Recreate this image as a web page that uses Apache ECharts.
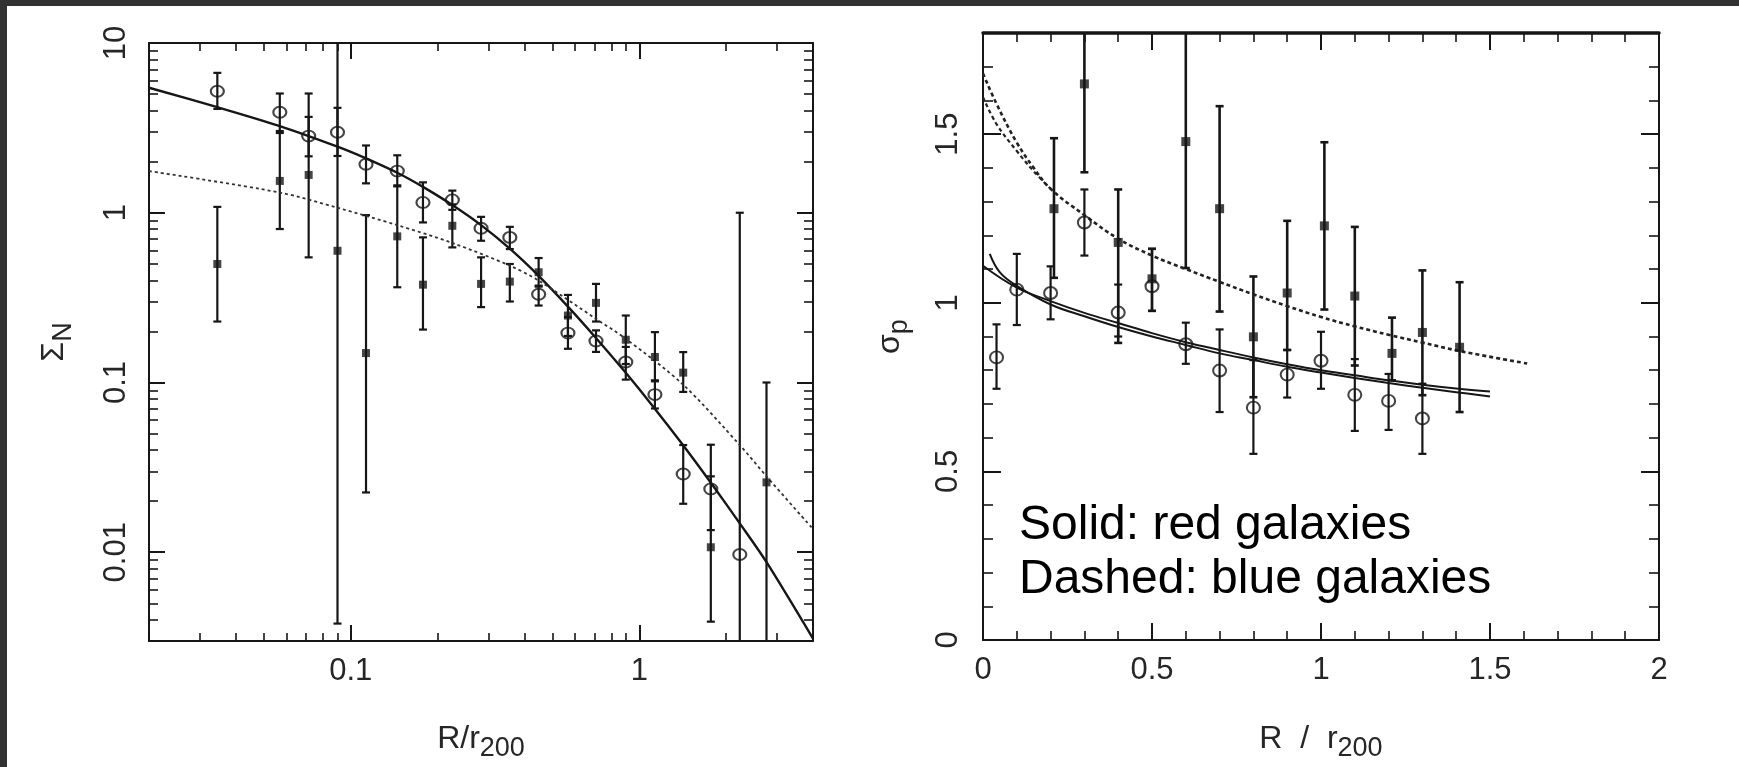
<!DOCTYPE html>
<html>
<head>
<meta charset="utf-8">
<title>Sigma_N and sigma_p profiles</title>
<script src="https://cdn.jsdelivr.net/npm/echarts@6.0.0/dist/echarts.min.js"></script>
<style>
  html, body { margin: 0; padding: 0; background: #323232; overflow: hidden; }
  #paper { position: absolute; left: 7px; top: 6px; right: 0; bottom: 0; background: #fff; }
  #chart { position: absolute; left: 0; top: 0; width: 1739px; height: 767px; }
</style>
</head>
<body>
<div id="paper"></div>
<div id="chart"></div>
<script>
// ---- left panel: Sigma_N vs R/r200 (log-log) ----
// open circles = red galaxies, filled squares = blue galaxies
const sigRedR  = [0.0345, 0.0568, 0.0715, 0.090, 0.113, 0.145, 0.178, 0.225, 0.283, 0.356, 0.448, 0.566, 0.708, 0.898, 1.133, 1.42, 1.77, 2.23];
const sigRed   = [5.2, 3.91, 2.83, 2.98, 1.93, 1.76, 1.15, 1.19, 0.81, 0.716, 0.331, 0.1955, 0.1755, 0.132, 0.0849, 0.0289, 0.0236, 0.0097];
const sigRedLo = [4.09, 3.03, 2.15, 2.16, 1.49, 1.43, 0.877, 1.04, 0.684, 0.611, 0.284, 0.158, 0.1514, 0.104, 0.0703, 0.0193, 0.0135, 0.001];
const sigRedHi = [6.67, 5.04, 3.67, 4.15, 2.49, 2.18, 1.51, 1.35, 0.946, 0.826, 0.372, 0.243, 0.2028, 0.162, 0.103, 0.0428, 0.043, 1.0];

const sigBlueR  = [0.0345, 0.0568, 0.0715, 0.090, 0.113, 0.145, 0.178, 0.225, 0.283, 0.356, 0.448, 0.566, 0.708, 0.898, 1.133, 1.42, 1.77, 2.76];
const sigBlue   = [0.499, 1.54, 1.67, 0.597, 0.149, 0.726, 0.377, 0.838, 0.381, 0.393, 0.446, 0.248, 0.2945, 0.1786, 0.1413, 0.1143, 0.0107, 0.0258];
const sigBlueLo = [0.2286, 0.802, 0.546, 0.0038, 0.0225, 0.364, 0.205, 0.625, 0.278, 0.30, 0.367, 0.188, 0.2286, 0.1285, 0.1016, 0.088, 0.0039, 0.001];
const sigBlueHi = [1.083, 2.95, 5.04, 20, 0.968, 1.45, 0.716, 1.12, 0.546, 0.499, 0.541, 0.328, 0.381, 0.248, 0.198, 0.151, 0.028, 0.1];

const sigRedFitR  = [0.02, 0.0345, 0.0568, 0.09, 0.113, 0.145, 0.178, 0.225, 0.283, 0.356, 0.448, 0.566, 0.708, 0.898, 1.125, 1.413, 1.778, 2.23, 2.754, 4.0];
const sigRedFit   = [5.45, 4.19, 3.24, 2.45, 2.09, 1.72, 1.42, 1.11, 0.845, 0.614, 0.425, 0.28, 0.183, 0.114, 0.0711, 0.0431, 0.0254, 0.0148, 0.0088, 0.0031];
const sigBlueFitR = [0.02, 0.0568, 0.09, 0.145, 0.225, 0.356, 0.448, 0.708, 0.898, 1.42, 2.23, 2.76, 4.0];
const sigBlueFit  = [1.76, 1.315, 1.07, 0.845, 0.664, 0.488, 0.398, 0.237, 0.181, 0.097, 0.0428, 0.028, 0.0137];

// ---- right panel: sigma_p vs R/r200 ----
const dispRedR  = [0.04, 0.1, 0.2, 0.3, 0.4, 0.5, 0.6, 0.7, 0.8, 0.9, 1.0, 1.1, 1.2, 1.3];
const dispRed   = [0.838, 1.039, 1.029, 1.238, 0.971, 1.049, 0.877, 0.799, 0.689, 0.787, 0.828, 0.727, 0.709, 0.657];
const dispRedLo = [0.745, 0.934, 0.951, 1.14, 0.90, 0.976, 0.819, 0.676, 0.552, 0.719, 0.745, 0.62, 0.623, 0.552];
const dispRedHi = [0.936, 1.145, 1.108, 1.336, 1.054, 1.16, 0.941, 0.921, 0.83, 0.86, 0.914, 0.833, 0.789, 0.76];

const dispBlueR  = [0.21, 0.3, 0.4, 0.5, 0.6, 0.7, 0.8, 0.9, 1.01, 1.1, 1.21, 1.3, 1.41];
const dispBlue   = [1.279, 1.649, 1.179, 1.071, 1.478, 1.279, 0.899, 1.029, 1.228, 1.02, 0.85, 0.912, 0.868];
const dispBlueLo = [1.074, 1.387, 0.881, 0.976, 1.103, 0.974, 0.72, 0.86, 0.98, 0.814, 0.77, 0.726, 0.676];
const dispBlueHi = [1.488, 1.91, 1.336, 1.16, 1.85, 1.583, 1.078, 1.243, 1.476, 1.225, 0.956, 1.096, 1.061];

// two nearly identical solid fits for the red galaxies
const dispRedFitR  = [0, 0.1, 0.2, 0.3, 0.4, 0.5, 0.6, 0.7, 0.8, 0.9, 1.0, 1.1, 1.2, 1.3, 1.4, 1.5];
const dispRedFitA  = [1.11, 1.045, 1.005, 0.97, 0.94, 0.91, 0.883, 0.86, 0.838, 0.818, 0.8, 0.785, 0.77, 0.757, 0.746, 0.737];
const dispRedFitR2 = [0.02, 0.05, 0.1, 0.2, 0.3, 0.4, 0.5, 0.6, 0.7, 0.8, 0.9, 1.0, 1.1, 1.2, 1.3, 1.4, 1.5];
const dispRedFitB  = [1.145, 1.09, 1.05, 0.995, 0.96, 0.928, 0.9, 0.875, 0.85, 0.83, 0.81, 0.793, 0.777, 0.762, 0.748, 0.735, 0.722];
// dotted fits for the blue galaxies (a second one splits off near R=0)
const dispBlueFitR  = [0, 0.04, 0.1, 0.15, 0.2, 0.3, 0.4, 0.5, 0.6, 0.7, 0.8, 0.9, 1.0, 1.1, 1.2, 1.3, 1.41, 1.61];
const dispBlueFitA  = [1.68, 1.59, 1.475, 1.40, 1.338, 1.26, 1.19, 1.14, 1.10, 1.062, 1.025, 0.99, 0.958, 0.93, 0.905, 0.882, 0.857, 0.82];
const dispBlueFitR2 = [0, 0.04, 0.1, 0.15, 0.2];
const dispBlueFitB  = [1.61, 1.53, 1.45, 1.39, 1.338];

const INK = '#161616';
const FONT = '"Liberation Sans", Arial, Helvetica, sans-serif';

const zip = (xs, ys) => xs.map((x, i) => [x, ys[i]]);
const bars = (xs, lo, hi) => xs.map((x, i) => [x, lo[i], hi[i]]);

// vertical error bar with caps, cut at the plot frame
function errorBar(capHalf, width) {
  return function (params, api) {
    const x = api.value(0);
    const top = api.coord([x, api.value(2)]);
    const bot = api.coord([x, api.value(1)]);
    const cs = params.coordSys;
    const yMin = cs.y, yMax = cs.y + cs.height;
    const style = { stroke: INK, lineWidth: width };
    const kids = [{
      type: 'line',
      shape: { x1: top[0], y1: Math.max(top[1], yMin), x2: top[0], y2: Math.min(bot[1], yMax) },
      style
    }];
    if (top[1] >= yMin) kids.push({ type: 'line', shape: { x1: top[0] - capHalf, y1: top[1], x2: top[0] + capHalf, y2: top[1] }, style });
    if (bot[1] <= yMax) kids.push({ type: 'line', shape: { x1: bot[0] - capHalf, y1: bot[1], x2: bot[0] + capHalf, y2: bot[1] }, style });
    return { type: 'group', children: kids };
  };
}

const tickLabel = { color: '#262626', fontSize: 31, fontFamily: FONT };
const nameStyle = {
  color: '#262626', fontSize: 32, fontFamily: FONT,
  rich: { s: { fontSize: 27, fontFamily: FONT, color: '#262626', padding: [18, 0, 0, 0] } }
};

function frameAxis(extra) {
  return Object.assign({
    axisLine: { show: true, onZero: false, lineStyle: { color: INK, width: 2 } },
    axisTick: { show: true, inside: true, length: 16, lineStyle: { color: INK, width: 2 } },
    minorTick: { show: true, length: 8, lineStyle: { color: INK, width: 1.6 } },
    splitLine: { show: false },
    minorSplitLine: { show: false },
    axisLabel: { show: false }
  }, extra);
}

const chart = echarts.init(document.getElementById('chart'), null, { renderer: 'canvas' });

chart.setOption({
  animation: false,
  backgroundColor: 'transparent',
  grid: [
    { left: 149, top: 43, width: 664, height: 600 },
    { left: 983, top: 33, width: 676, height: 612 }
  ],
  xAxis: [
    frameAxis({
      type: 'log', logBase: 10, min: 0.02, max: 4, gridIndex: 0, position: 'bottom',
      minorTick: { show: true, splitNumber: 9, length: 8, lineStyle: { color: INK, width: 1.6 } },
      axisLabel: Object.assign({ show: true, margin: 15, showMinLabel: false, showMaxLabel: false }, tickLabel),
      name: 'R/r{s|200}', nameLocation: 'middle', nameGap: 76, nameTextStyle: nameStyle
    }),
    frameAxis({
      type: 'log', logBase: 10, min: 0.02, max: 4, gridIndex: 0, position: 'top',
      minorTick: { show: true, splitNumber: 9, length: 8, lineStyle: { color: INK, width: 1.6 } }
    }),
    frameAxis({
      type: 'value', min: 0, max: 2, interval: 0.5, gridIndex: 1, position: 'bottom',
      axisTick: { show: true, inside: true, length: 17, lineStyle: { color: INK, width: 2 } },
      minorTick: { show: true, splitNumber: 5, length: 9, lineStyle: { color: INK, width: 1.6 } },
      axisLabel: Object.assign({ show: true, margin: 15 }, tickLabel),
      name: 'R  /  r{s|200}', nameLocation: 'middle', nameGap: 77, nameTextStyle: nameStyle
    }),
    frameAxis({
      type: 'value', min: 0, max: 2, interval: 0.5, gridIndex: 1, position: 'top',
      axisLine: { show: true, onZero: false, lineStyle: { color: INK, width: 3.5 } },
      axisTick: { show: true, inside: true, length: 17, lineStyle: { color: INK, width: 2 } },
      minorTick: { show: true, splitNumber: 5, length: 9, lineStyle: { color: INK, width: 1.6 } }
    })
  ],
  yAxis: [
    frameAxis({
      type: 'log', logBase: 10, min: 0.003, max: 10, gridIndex: 0, position: 'left',
      minorTick: { show: true, splitNumber: 9, length: 9, lineStyle: { color: INK, width: 1.6 } },
      axisLabel: Object.assign({ show: true, rotate: 90, margin: 17, showMinLabel: false }, tickLabel),
      name: 'Σ{s|N}', nameLocation: 'middle', nameRotate: 90, nameGap: 72, nameTextStyle: nameStyle
    }),
    frameAxis({
      type: 'log', logBase: 10, min: 0.003, max: 10, gridIndex: 0, position: 'right',
      minorTick: { show: true, splitNumber: 9, length: 9, lineStyle: { color: INK, width: 1.6 } }
    }),
    frameAxis({
      type: 'value', min: 0, max: 1.8, interval: 0.5, gridIndex: 1, position: 'left',
      axisTick: { show: true, inside: true, length: 18, lineStyle: { color: INK, width: 2 } },
      minorTick: { show: true, splitNumber: 5, length: 10, lineStyle: { color: INK, width: 1.6 } },
      axisLabel: Object.assign({ show: true, rotate: 90, margin: 19, showMaxLabel: false }, tickLabel),
      name: 'σ{s|p}', nameLocation: 'middle', nameRotate: 90, nameGap: 70, nameTextStyle: nameStyle
    }),
    frameAxis({
      type: 'value', min: 0, max: 1.8, interval: 0.5, gridIndex: 1, position: 'right',
      axisTick: { show: true, inside: true, length: 18, lineStyle: { color: INK, width: 2 } },
      minorTick: { show: true, splitNumber: 5, length: 10, lineStyle: { color: INK, width: 1.6 } }
    })
  ],
  series: [
    // left panel
    { type: 'custom', xAxisIndex: 0, yAxisIndex: 0, renderItem: errorBar(4, 2.2), data: bars(sigRedR, sigRedLo, sigRedHi), encode: { x: 0, y: [1, 2] }, z: 2 },
    { type: 'custom', xAxisIndex: 0, yAxisIndex: 0, renderItem: errorBar(4, 2.2), data: bars(sigBlueR, sigBlueLo, sigBlueHi), encode: { x: 0, y: [1, 2] }, z: 2 },
    { type: 'line', xAxisIndex: 0, yAxisIndex: 0, data: zip(sigRedFitR, sigRedFit), smooth: 0.3, showSymbol: false, lineStyle: { color: INK, width: 2.4 }, z: 3 },
    { type: 'line', xAxisIndex: 0, yAxisIndex: 0, data: zip(sigBlueFitR, sigBlueFit), smooth: 0.3, showSymbol: false, lineStyle: { color: '#333', width: 1.8, type: [3, 3] }, z: 3 },
    { type: 'scatter', xAxisIndex: 0, yAxisIndex: 0, data: zip(sigRedR, sigRed), symbol: 'circle', symbolSize: [13, 11], itemStyle: { color: 'rgba(0,0,0,0)', borderColor: INK, borderWidth: 2 }, z: 4 },
    { type: 'scatter', xAxisIndex: 0, yAxisIndex: 0, data: zip(sigBlueR, sigBlue), symbol: 'rect', symbolSize: 8, itemStyle: { color: INK }, z: 4 },
    // right panel
    { type: 'custom', xAxisIndex: 2, yAxisIndex: 2, renderItem: errorBar(4, 2.2), data: bars(dispRedR, dispRedLo, dispRedHi), encode: { x: 0, y: [1, 2] }, z: 2 },
    { type: 'custom', xAxisIndex: 2, yAxisIndex: 2, renderItem: errorBar(4, 2.6), data: bars(dispBlueR, dispBlueLo, dispBlueHi), encode: { x: 0, y: [1, 2] }, z: 2 },
    { type: 'line', xAxisIndex: 2, yAxisIndex: 2, data: zip(dispRedFitR, dispRedFitA), smooth: 0.4, showSymbol: false, lineStyle: { color: INK, width: 2 }, z: 3 },
    { type: 'line', xAxisIndex: 2, yAxisIndex: 2, data: zip(dispRedFitR2, dispRedFitB), smooth: 0.4, showSymbol: false, lineStyle: { color: INK, width: 2 }, z: 3 },
    { type: 'line', xAxisIndex: 2, yAxisIndex: 2, data: zip(dispBlueFitR, dispBlueFitA), smooth: 0.4, showSymbol: false, lineStyle: { color: '#222', width: 2.6, type: [4, 3] }, z: 3 },
    { type: 'line', xAxisIndex: 2, yAxisIndex: 2, data: zip(dispBlueFitR2, dispBlueFitB), smooth: 0.4, showSymbol: false, lineStyle: { color: '#222', width: 2.2, type: [4, 3] }, z: 3 },
    { type: 'scatter', xAxisIndex: 2, yAxisIndex: 2, data: zip(dispRedR, dispRed), symbol: 'circle', symbolSize: [13, 12], itemStyle: { color: 'rgba(0,0,0,0)', borderColor: INK, borderWidth: 2 }, z: 4 },
    { type: 'scatter', xAxisIndex: 2, yAxisIndex: 2, data: zip(dispBlueR, dispBlue), symbol: 'rect', symbolSize: 9, itemStyle: { color: INK }, z: 4 }
  ],
  graphic: [{
    type: 'text', left: 1019, top: 499, z: 10,
    style: {
      text: 'Solid: red galaxies\nDashed: blue galaxies',
      font: '48px ' + FONT, fill: '#000', lineHeight: 54
    }
  }]
});
</script>
</body>
</html>
